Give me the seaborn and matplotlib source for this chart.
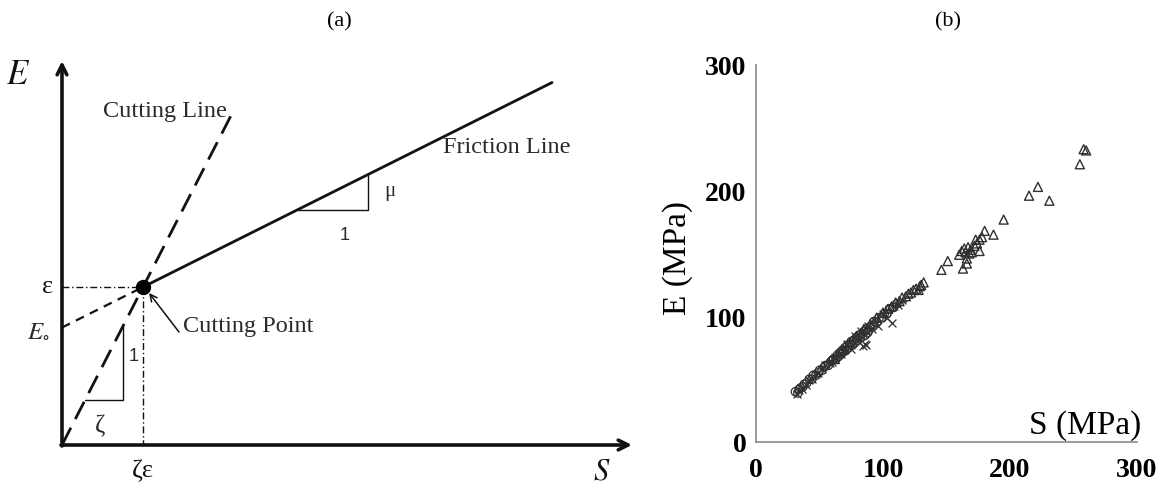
import numpy as np
import pandas as pd
import matplotlib
matplotlib.use("Agg")
import matplotlib.pyplot as plt
import seaborn as sns

sns.set_style("white")
plt.rcParams["font.family"] = ["Liberation Serif", "DejaVu Serif"]
plt.rcParams["mathtext.fontset"] = "stix"
plt.rcParams["text.color"] = "black"
plt.rcParams["xtick.labelcolor"] = "black"
plt.rcParams["ytick.labelcolor"] = "black"

# ---- Panel (a): schematic of cutting / friction lines (schematic units) ----
eps = 158.0          # specific energy at cutting point
zeta = 0.513         # cutting line inverse slope
mu = 0.50            # friction coefficient
E0 = eps - mu * zeta * eps
s_fric_end = 490.0
s_cut_end = 171.0

# ---- Panel (b): measured E vs S (MPa) ----
circ_S = [31, 33, 34, 35, 37, 38, 40, 42, 44, 45, 47, 49, 50, 52, 54, 55, 57, 59, 60, 61,
          63, 64, 65, 66, 67, 68, 69, 70, 71, 72, 73, 74, 75, 76, 77, 78, 79, 80, 81, 82,
          83, 84, 85, 86, 87, 88, 89, 90, 92, 93, 95, 97, 99, 101, 103, 105, 108, 111]
circ_E = [40, 39, 42, 43, 44, 46, 47, 50, 50, 53, 53, 55, 57, 57, 60, 61, 61, 64, 65, 66,
          66, 69, 68, 71, 70, 73, 72, 75, 73, 77, 75, 78, 80, 77, 81, 79, 83, 81, 85, 83,
          86, 84, 88, 85, 90, 87, 89, 92, 92, 96, 95, 99, 99, 102, 102, 106, 107, 110]
cross_S = [32, 34, 36, 39, 42, 44, 47, 49, 52, 54, 58, 60, 62, 65, 67, 69, 72, 75, 78, 80,
           83, 84, 86, 87, 88, 91, 94, 96, 100, 103, 107, 109, 112, 115]
cross_E = [38, 41, 42, 45, 49, 50, 54, 55, 58, 61, 63, 64, 68, 70, 70, 73, 78, 74, 84, 80,
           88, 76, 78, 77, 92, 90, 96, 92, 102, 99, 95, 108, 109, 113]
tri_S = [62, 68, 74, 79, 85, 90, 95, 100, 104, 107, 110, 113, 115, 118, 120, 122, 124, 126,
         128, 129, 130, 132, 146, 151, 160, 162, 163, 164, 165, 166, 166, 167, 168, 169, 170,
         172, 173, 174, 176, 176, 178, 180, 187, 195, 215, 222, 231, 255, 258, 260]
tri_E = [66, 73, 79, 84, 90, 94, 99, 103, 106, 108, 111, 112, 115, 116, 118, 119, 121, 122,
         121, 124, 125, 127, 137, 144, 149, 152, 138, 154, 151, 142, 146, 155, 150, 153, 151,
         156, 161, 158, 161, 152, 163, 168, 165, 177, 196, 203, 192, 221, 233, 232]

W, H = 1166, 485
fig = plt.figure(figsize=(W / 100, H / 100), dpi=100)

def box(x0, y_top, x1, y_bot):
    return [x0 / W, (H - y_bot) / H, (x1 - x0) / W, (y_bot - y_top) / H]

# ================= Panel (a) =================
axa = fig.add_axes(box(62, 40, 640, 446))
axa.set_xlim(0, 578)
axa.set_ylim(0, 406)
axa.axis("off")

ink = "#111111"
txt = "#2a2a2a"

# coordinate arrows
axa.annotate("", xy=(570, 0), xytext=(-1, 0),
             arrowprops=dict(arrowstyle="->,head_length=0.7,head_width=0.35", lw=2.6,
                             color=ink, shrinkA=0, shrinkB=0), annotation_clip=False)
axa.annotate("", xy=(0, 384), xytext=(0, -1),
             arrowprops=dict(arrowstyle="->,head_length=0.7,head_width=0.35", lw=2.6,
                             color=ink, shrinkA=0, shrinkB=0), annotation_clip=False)

s_pt = zeta * eps
fric = pd.DataFrame({"S": [s_pt, s_fric_end], "E": [eps, E0 + mu * s_fric_end]})
fric_ext = pd.DataFrame({"S": [0, s_pt], "E": [E0, eps]})
cut = pd.DataFrame({"S": [0, s_cut_end], "E": [0, s_cut_end / zeta]})

sns.lineplot(data=fric, x="S", y="E", ax=axa, color=ink, lw=2.0)
sns.lineplot(data=fric_ext, x="S", y="E", ax=axa, color=ink, lw=1.6,
             linestyle=(0, (4, 3)))
sns.lineplot(data=cut, x="S", y="E", ax=axa, color=ink, lw=2.0, linestyle=(0, (7, 3.5)))

# guide lines to the cutting point
axa.plot([0, s_pt], [eps, eps], color=ink, lw=1.0, linestyle=(0, (5, 2, 1, 2)))
axa.plot([s_pt, s_pt], [eps, 0], color=ink, lw=1.0, linestyle=(0, (5, 2, 1, 2)))
axa.plot([s_pt], [eps], "o", color="black", ms=10)

# slope triangles
fx0, fx1 = 236, 306
axa.plot([fx0, fx1, fx1], [E0 + mu * fx0, E0 + mu * fx0, E0 + mu * fx1], color=ink, lw=1.0)
axa.text(fx1 + 22, E0 + mu * (fx0 + fx1) / 2 + 2, "μ", fontsize=15, color=txt,
         ha="center", va="center")
axa.text((fx0 + fx1) / 2 + 12, E0 + mu * fx0 - 25, "1", fontsize=13, color=txt,
         ha="center", va="center", family=["Liberation Sans", "DejaVu Sans"])

cx0, cx1 = 23, 61
axa.plot([cx0, cx1, cx1], [cx0 / zeta, cx0 / zeta, cx1 / zeta], color=ink, lw=1.0)
axa.text(cx1 + 11, (cx0 + cx1) / zeta / 2 + 8, "1", fontsize=13, color=txt,
         ha="center", va="center", family=["Liberation Sans", "DejaVu Sans"])
axa.text((cx0 + cx1) / 2 - 4, cx0 / zeta - 25, "ζ", fontsize=18, color=txt,
         ha="center", va="center")

# annotations
axa.text(41, 334, "Cutting Line", fontsize=17.5, color=txt, ha="left", va="center")
axa.text(381, 298, "Friction Line", fontsize=17.5, color=txt, ha="left", va="center")
axa.text(121, 119, "Cutting Point", fontsize=17.5, color=txt, ha="left", va="center")
axa.annotate("", xy=(s_pt + 6, eps - 6), xytext=(117, 113),
             arrowprops=dict(arrowstyle="->,head_length=0.5,head_width=0.25", lw=1.1,
                             color=ink, shrinkA=0, shrinkB=0))
axa.text(-14, eps + 1, "ε", fontsize=19, color=ink, ha="center", va="center")
axa.text(-24, E0 - 3, r"$E_{\circ}$", fontsize=18, color=txt, ha="center", va="center")
axa.text(s_pt, -25, "ζε", fontsize=19, color=ink, ha="center", va="center")
axa.text(-44, 370, r"$E$", fontsize=25, color=ink, ha="center", va="center")
axa.text(540, -26, r"$S$", fontsize=22, color=ink, ha="center", va="center")

# ================= Panel (b) =================
axb = fig.add_axes(box(756, 66, 1137, 443))
pt_kw = dict(ax=axb, legend=False, zorder=3)
sns.scatterplot(x=circ_S, y=circ_E, marker="o", s=36, facecolor="none",
                edgecolor="#303030", linewidth=0.9, **pt_kw)
sns.scatterplot(x=cross_S, y=cross_E, marker="x", s=32, color="#303030",
                linewidth=0.9, **pt_kw)
sns.scatterplot(x=tri_S, y=tri_E, marker="^", s=42, facecolor="none",
                edgecolor="#303030", linewidth=1.0, **pt_kw)

axb.set_xlim(0, 300)
axb.set_ylim(0, 300)
axb.set_xticks([0, 100, 200, 300])
axb.set_yticks([0, 100, 200, 300])
axb.set_xticks([50, 150, 250], minor=True)
axb.set_yticks([50, 150, 250], minor=True)
for sp in ["top", "right"]:
    axb.spines[sp].set_visible(False)
for sp in ["left", "bottom"]:
    axb.spines[sp].set_color("#8a8a8a")
    axb.spines[sp].set_linewidth(1.2)
axb.tick_params(axis="both", which="both", direction="out", length=3, width=1,
                color="#8a8a8a")
axb.tick_params(axis="x", which="major", pad=8)
axb.tick_params(axis="y", which="major", pad=4)
for lab in axb.get_xticklabels() + axb.get_yticklabels():
    lab.set_fontsize(20)
    lab.set_fontweight("bold")
axb.set_xlabel("")
axb.set_ylabel("")
axb.text(-0.205, 0.49, "E (MPa)", transform=axb.transAxes, rotation=90, fontsize=24,
         ha="center", va="center")
axb.text(0.864, 0.005, "S (MPa)", transform=axb.transAxes, fontsize=24,
         ha="center", va="bottom")

fig.text(339 / W, 1 - 22 / H, "(a)", fontsize=16, ha="center", va="center")
fig.text(948 / W, 1 - 22 / H, "(b)", fontsize=16, ha="center", va="center")

fig.savefig("out.png", dpi=100, facecolor="white")
